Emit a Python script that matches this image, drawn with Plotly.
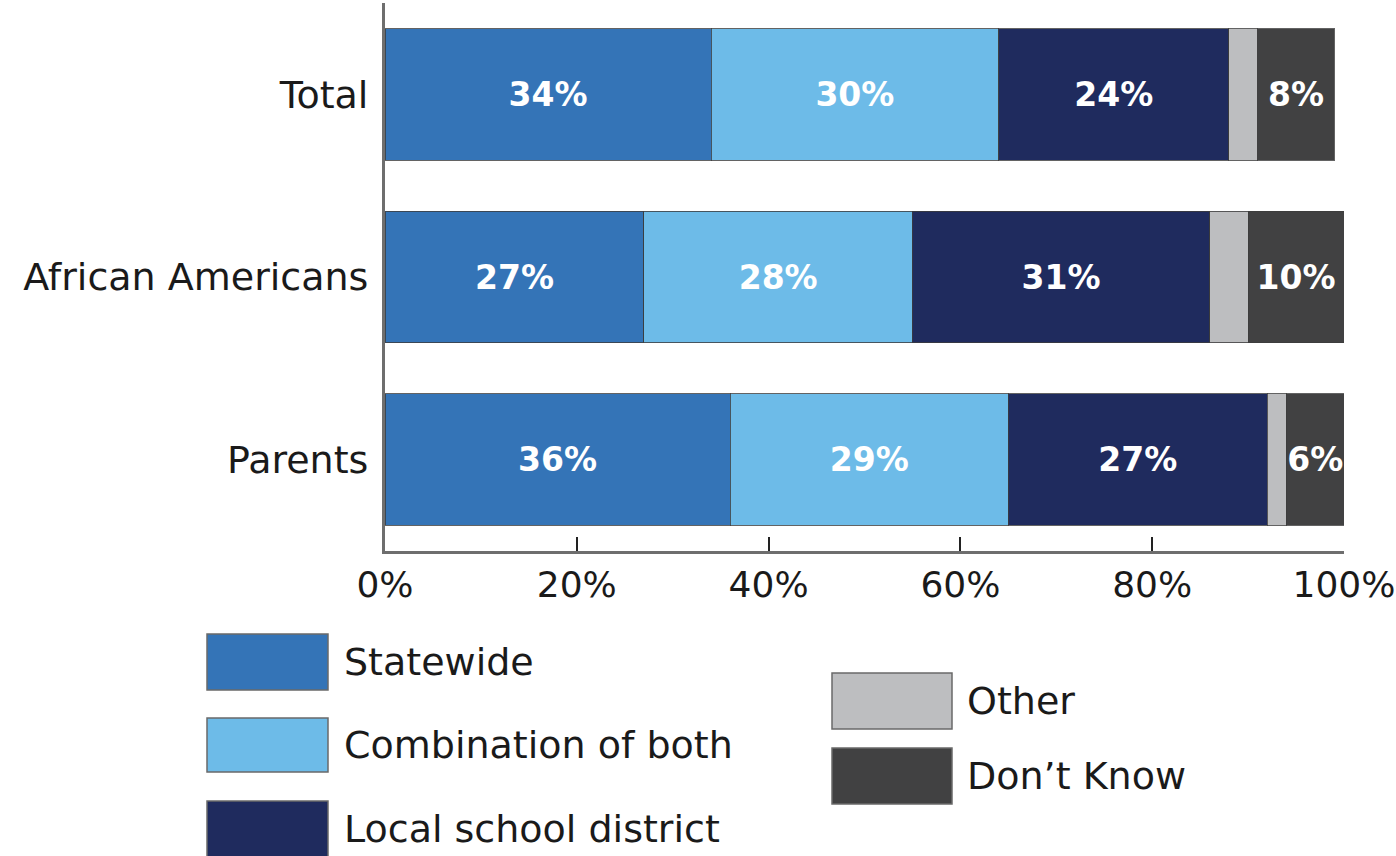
import plotly.graph_objects as go

# Survey groups (bottom to top on the chart)
groups = ["Parents", "African Americans", "Total"]

# Share of responses per answer, in percent, aligned with `groups`
statewide = [36, 27, 34]
combination = [29, 28, 30]
local_district = [27, 31, 24]
other = [2, 4, 3]
dont_know = [6, 10, 8]

series = [
    ("Statewide", statewide, "#3474b7", True),
    ("Combination of both", combination, "#6dbbe8", True),
    ("Local school district", local_district, "#1f2b5e", True),
    ("Other", other, "#bdbec0", False),
    ("Don\u2019t Know", dont_know, "#414142", True),
]

tick_vals = [0, 20, 40, 60, 80, 100]
tick_text = ["0%", "20%", "40%", "60%", "80%", "100%"]

FONT = "'DejaVu Sans', sans-serif"

# Plot area in pixels
W, H = 1396, 856
L, R, T, B = 385, 1344, 3, 551

fig = go.Figure()
for name, vals, color, labelled in series:
    fig.add_trace(go.Bar(
        y=groups,
        x=vals,
        name=name,
        orientation="h",
        width=0.72,
        marker=dict(color=color, line=dict(color="rgba(60,60,60,0.8)", width=1)),
        text=[f"{v}%" for v in vals] if labelled else None,
        textposition="inside" if labelled else "none",
        insidetextanchor="middle",
        textangle=0,
        textfont=dict(family=FONT, size=33, color="white", weight="bold"),
        showlegend=False,
    ))

fig.update_layout(
    barmode="stack",
    width=W,
    height=H,
    margin=dict(l=L, r=W - R, t=T, b=H - B, autoexpand=False),
    paper_bgcolor="white",
    plot_bgcolor="white",
    font=dict(family=FONT, color="#1a1a1a"),
    uniformtext=dict(minsize=33, mode="show"),
)

fig.update_xaxes(
    range=[0, 100],
    tickvals=tick_vals,
    ticktext=tick_text,
    ticks="inside",
    ticklen=14,
    tickwidth=1.5,
    tickcolor="#222",
    showline=True,
    linecolor="#6e6e6e",
    linewidth=3,
    showgrid=False,
    zeroline=False,
    automargin=False,
    tickfont=dict(family=FONT, size=36, color="#1a1a1a"),
)
fig.update_yaxes(
    range=[-0.5, 2.5],
    showline=True,
    linecolor="#6e6e6e",
    linewidth=3,
    ticks="",
    showgrid=False,
    automargin=False,
    ticklabelstandoff=6,
    tickfont=dict(family=FONT, size=38, color="#1a1a1a"),
)

# Two-column legend drawn below the axis; pixel positions converted to paper units
def px(x):
    return (x - L) / (R - L)
def py(y):
    return (B - y) / (B - T)

legend_items = [
    # (name, color, left, top, right, bottom, text_x)
    (series[0][0], series[0][2], 207, 634, 328, 690, 342),
    (series[1][0], series[1][2], 207, 718, 328, 772, 342),
    (series[2][0], series[2][2], 207, 801, 328, 857, 342),
    (series[3][0], series[3][2], 832, 673, 952, 729, 965),
    (series[4][0], series[4][2], 832, 748, 952, 804, 965),
]
for name, color, x0, y0, x1, y1, tx in legend_items:
    fig.add_shape(
        type="rect", xref="paper", yref="paper",
        x0=px(x0), x1=px(x1), y0=py(y1), y1=py(y0),
        fillcolor=color, line=dict(color="#6a6a6a", width=1.5),
    )
    fig.add_annotation(
        xref="paper", yref="paper",
        x=px(tx), y=py((y0 + y1) / 2),
        text=name, showarrow=False,
        xanchor="left", yanchor="middle",
        font=dict(family=FONT, size=38, color="#1a1a1a"),
    )

fig.write_html("out.html")
